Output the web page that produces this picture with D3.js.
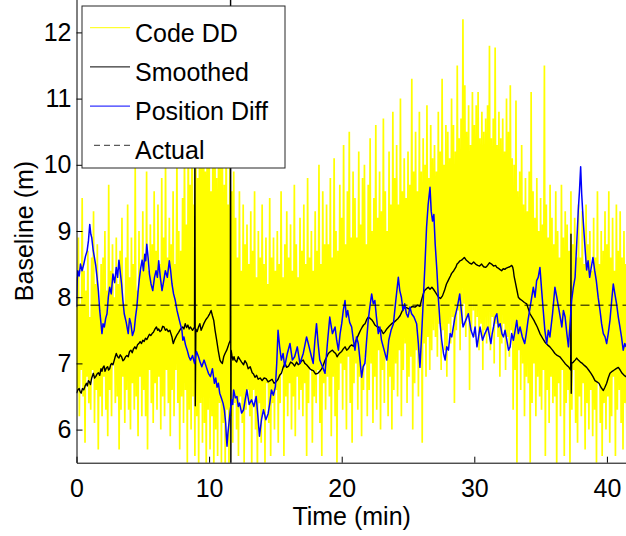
<!DOCTYPE html>
<html>
<head>
<meta charset="utf-8">
<script src="https://cdn.jsdelivr.net/npm/d3@7"></script>
<style>
  body { margin: 0; background: #fff; }
  svg { display: block; }
  text { font-family: "Liberation Sans", Arial, Helvetica, sans-serif; fill: #000; }
</style>
</head>
<body>
<svg id="chart" width="626" height="536"></svg>
<script>
// ---- data -------------------------------------------------------------
const xTicks = [0, 10, 20, 30, 40];
const yTicks = [6, 7, 8, 9, 10, 11, 12];
const xLabel = "Time (min)";
const yLabel = "Baseline (m)";
const legendLabels = ["Code DD", "Smoothed", "Position Diff", "Actual"];

// true baseline length (m)
const actualBaseline = 7.88;

// code double-difference baseline, sampled 14 times per minute (one row per minute)
const codeDDSamplesPerMin = 14;
const codeDD = [
  8.3, 6.6, 8.9, 6.2, 7.9, 6.9, 9.5, 6.5, 8.4, 5.8, 8.1, 6.8, 8.7, 6.4,
  7.7, 6.3, 8.6, 6.9, 9.3, 6.1, 8.2, 6.6, 8.8, 5.7, 7.9, 6.5, 8.5, 6.2,
  8.6, 6.8, 9.0, 6.3, 8.1, 5.9, 9.7, 6.6, 8.4, 6.2, 8.8, 7.0, 8.0, 6.4,
  8.9, 6.5, 8.2, 5.7, 8.7, 6.3, 9.2, 6.8, 7.9, 6.1, 8.6, 6.6, 9.4, 6.3,
  8.3, 6.0, 8.9, 6.7, 8.5, 6.3, 9.96, 6.5, 8.1, 5.9, 9.0, 6.8, 8.4, 6.2,
  9.3, 6.6, 8.6, 6.2, 9.9, 5.7, 8.4, 6.9, 9.1, 6.4, 8.8, 6.1, 9.6, 6.7,
  8.7, 6.3, 9.4, 6.8, 8.5, 6.0, 9.8, 6.5, 8.9, 6.2, 10.1, 6.9, 8.6, 6.4,
  9.2, 5.9, 8.8, 6.6, 9.6, 6.2, 8.5, 6.9, 10.2, 6.4, 9.0, 5.7, 8.7, 6.5,
  9.5, 6.1, 10.4, 6.6, 9.1, 5.5, 10.9, 6.3, 9.7, 6.0, 11.4, 6.5, 9.4, 5.6,
  10.6, 6.2, 9.8, 5.4, 11.2, 6.4, 10.1, 5.8, 12.0, 6.1, 9.9, 5.3, 10.8, 6.3,
  11.0, 5.7, 9.6, 6.2, 10.5, 5.3, 11.6, 6.0, 9.8, 5.6, 10.3, 6.4, 11.3, 5.5,
  10.2, 6.1, 9.7, 5.4, 10.8, 6.3, 9.4, 5.3, 10.5, 6.2, 9.6, 5.8, 9.9, 6.4,
  9.2, 6.0, 8.6, 5.6, 9.6, 6.5, 8.4, 6.1, 9.4, 5.5, 8.8, 6.3, 9.1, 6.6,
  8.5, 6.2, 9.3, 5.4, 8.7, 6.6, 9.6, 6.0, 8.3, 5.3, 9.0, 6.4, 8.6, 5.8,
  9.4, 6.3, 8.5, 5.5, 8.9, 6.7, 8.2, 6.1, 9.5, 5.6, 8.6, 6.4, 8.9, 6.0,
  8.4, 6.6, 9.0, 5.8, 8.5, 6.4, 9.6, 6.9, 8.3, 5.6, 8.8, 6.5, 9.3, 6.2,
  8.6, 6.7, 9.1, 6.0, 8.4, 6.5, 9.7, 5.9, 8.8, 6.8, 8.3, 6.3, 9.2, 6.6,
  8.7, 6.2, 9.4, 6.7, 8.5, 5.6, 9.8, 6.4, 8.6, 6.9, 9.0, 5.8, 8.4, 6.5,
  9.3, 6.4, 8.7, 6.9, 10.0, 6.1, 8.5, 5.6, 9.6, 6.7, 8.8, 6.3, 9.4, 6.8,
  8.8, 6.5, 9.8, 5.9, 8.6, 6.8, 10.1, 6.2, 9.0, 5.5, 8.7, 6.6, 9.7, 7.0,
  9.2, 6.3, 10.3, 6.9, 8.8, 6.0, 9.6, 7.1, 10.5, 6.4, 8.9, 5.8, 9.9, 6.7,
  9.5, 7.0, 8.9, 6.3, 10.2, 6.8, 9.1, 5.9, 9.8, 6.6, 10.0, 7.1, 8.8, 6.2,
  9.7, 6.6, 10.4, 7.0, 9.0, 6.1, 9.5, 6.8, 10.6, 6.3, 9.2, 7.2, 9.9, 6.0,
  9.3, 6.9, 10.7, 6.4, 9.6, 7.1, 9.0, 6.2, 10.2, 6.8, 9.4, 6.0, 10.8, 6.6,
  9.8, 7.0, 10.3, 6.5, 9.4, 7.2, 11.0, 6.2, 9.6, 6.9, 10.1, 7.3, 9.5, 6.4,
  10.2, 6.8, 9.7, 7.1, 11.3, 6.0, 9.9, 6.7, 10.5, 7.2, 9.6, 6.5, 10.8, 7.0,
  9.9, 5.8, 10.4, 7.3, 10.0, 6.8, 10.9, 7.4, 9.8, 6.9, 10.6, 7.2, 10.1, 7.5,
  10.3, 7.4, 9.9, 7.1, 10.8, 7.6, 10.2, 6.9, 11.3, 7.5, 10.0, 7.2, 10.6, 6.8,
  10.5, 7.6, 10.1, 7.3, 11.0, 7.7, 10.6, 6.4, 10.2, 7.5, 11.5, 7.8, 10.4, 7.2,
  10.7, 7.6, 12.2, 7.9, 11.2, 7.4, 10.5, 7.7, 10.9, 6.6, 10.3, 7.5, 11.1, 7.8,
  10.6, 7.4, 10.9, 7.7, 11.1, 7.2, 10.4, 7.6, 10.8, 6.9, 10.5, 7.5, 10.7, 7.3,
  10.9, 7.5, 11.8, 7.2, 10.4, 7.7, 10.7, 7.0, 11.77, 7.6, 10.3, 7.4, 10.8, 6.8,
  10.4, 7.3, 10.7, 7.6, 10.2, 6.9, 11.0, 7.4, 10.5, 7.1, 11.2, 7.5, 10.1, 6.3,
  10.0, 6.9, 10.97, 5.5, 9.6, 7.2, 9.9, 6.6, 10.3, 7.0, 9.4, 6.2, 9.8, 6.8,
  9.3, 6.7, 9.9, 5.5, 11.1, 6.4, 9.6, 7.0, 9.2, 6.2, 9.8, 6.8, 9.0, 6.5,
  9.5, 6.3, 9.1, 6.9, 11.5, 5.6, 9.4, 6.6, 8.9, 6.1, 9.7, 6.8, 9.2, 6.4,
  8.8, 6.5, 9.6, 5.4, 9.0, 6.7, 8.6, 6.2, 9.7, 6.9, 8.9, 5.6, 9.3, 6.4,
  9.1, 6.6, 8.7, 5.5, 9.6, 6.3, 8.8, 6.9, 9.2, 6.1, 8.6, 5.8, 9.4, 6.5,
  8.6, 6.2, 9.3, 6.7, 8.5, 5.7, 9.4, 6.4, 8.8, 6.0, 9.0, 6.6, 8.4, 5.9,
  9.2, 6.3, 8.6, 5.5, 9.6, 6.7, 8.5, 6.1, 9.0, 5.6, 8.7, 6.4, 9.3, 6.0,
  8.8, 6.5, 9.6, 5.8, 8.6, 6.2, 9.2, 6.8, 8.4, 5.6, 9.4, 6.3, 8.7, 6.6,
  9.3, 6.1, 8.6, 5.7, 9.0, 6.4, 8.5, 6.0, 8.9, 6.3, 8.4, 5.9, 8.8, 6.5
];

// smoothed baseline: [minute, metres]
const smoothed = [
  [0.00,6.55],[0.10,6.60],[0.20,6.62],[0.28,6.57],[0.35,6.55],[0.45,6.62],[0.55,6.60],[0.65,6.66],[0.75,6.70],[0.82,6.66],
  [0.90,6.74],[0.98,6.72],[1.05,6.68],[1.15,6.78],[1.27,6.85],[1.36,6.78],[1.45,6.80],[1.55,6.84],[1.65,6.86],[1.75,6.82],
  [1.85,6.92],[1.92,6.88],[2.00,6.94],[2.08,6.96],[2.15,6.88],[2.25,6.93],[2.35,6.95],[2.42,6.90],[2.50,6.92],[2.58,6.98],
  [2.65,7.00],[2.75,6.98],[2.85,7.05],[2.92,7.10],[3.00,7.15],[3.10,7.10],[3.20,7.08],[3.30,7.13],[3.40,7.10],[3.50,7.04],
  [3.60,7.06],[3.70,7.10],[3.80,7.12],[3.90,7.10],[4.00,7.18],[4.10,7.20],[4.20,7.16],[4.30,7.22],[4.40,7.25],[4.50,7.22],
  [4.60,7.28],[4.70,7.30],[4.80,7.33],[4.90,7.30],[5.00,7.35],[5.10,7.33],[5.20,7.38],[5.30,7.36],[5.40,7.40],[5.50,7.44],
  [5.60,7.42],[5.70,7.45],[5.80,7.47],[5.92,7.52],[6.03,7.55],[6.12,7.50],[6.20,7.52],[6.30,7.48],[6.40,7.50],[6.50,7.56],
  [6.60,7.55],[6.70,7.50],[6.80,7.52],[6.92,7.48],[7.04,7.50],[7.12,7.45],[7.20,7.40],[7.25,7.34],[7.30,7.30],[7.40,7.36],
  [7.50,7.40],[7.60,7.44],[7.70,7.47],[7.85,7.52],[8.00,7.55],[8.10,7.52],[8.20,7.60],[8.30,7.54],[8.40,7.58],[8.50,7.52],
  [8.60,7.55],[8.75,7.50],[8.90,7.55],[8.93,10.6],[8.96,6.36],[9.00,7.52],[9.10,7.48],[9.20,7.55],[9.30,7.60],[9.40,7.50],
  [9.50,7.55],[9.60,7.60],[9.75,7.66],[9.90,7.70],[10.02,7.74],[10.15,7.80],[10.25,7.72],[10.35,7.65],[10.45,7.50],[10.57,7.35],
  [10.70,7.18],[10.82,7.05],[10.90,7.02],[11.00,7.00],[11.10,7.10],[11.20,7.15],[11.33,7.20],[11.42,7.25],[11.50,7.30],[11.60,7.35],
  [11.62,13.0],[11.64,5.0],[11.66,7.20],[11.72,7.12],[11.80,7.05],[11.88,7.10],[11.95,7.05],[12.08,7.02],[12.20,7.10],[12.32,7.06],
  [12.45,7.02],[12.60,6.98],[12.70,7.04],[12.83,7.00],[12.95,6.92],[13.10,6.95],[13.25,6.86],[13.35,6.84],[13.46,6.79],[13.58,6.82],
  [13.70,6.76],[13.85,6.78],[14.00,6.74],[14.15,6.78],[14.30,6.77],[14.45,6.72],[14.60,6.74],[14.75,6.76],[14.90,6.70],[15.05,6.72],
  [15.20,6.76],[15.32,6.82],[15.45,6.85],[15.60,6.95],[15.72,7.00],[15.85,6.94],[16.00,6.96],[16.15,7.02],[16.30,7.00],[16.45,6.96],
  [16.60,7.02],[16.72,6.98],[16.85,7.00],[16.98,7.04],[17.10,7.05],[17.22,7.00],[17.35,6.98],[17.48,6.95],[17.60,6.92],[17.72,6.90],
  [17.86,6.89],[18.02,6.84],[18.20,6.85],[18.35,6.88],[18.50,6.92],[18.62,6.98],[18.75,7.05],[18.88,7.10],[18.99,7.15],[19.15,7.18],
  [19.30,7.20],[19.42,7.17],[19.55,7.15],[19.65,7.10],[19.74,7.13],[19.88,7.16],[20.00,7.18],[20.12,7.22],[20.25,7.25],[20.38,7.20],
  [20.50,7.22],[20.62,7.26],[20.75,7.28],[20.88,7.26],[21.00,7.30],[21.15,7.38],[21.30,7.45],[21.42,7.50],[21.55,7.55],[21.65,7.58],
  [21.76,7.60],[21.88,7.66],[22.00,7.70],[22.15,7.68],[22.30,7.65],[22.40,7.62],[22.50,7.58],[22.62,7.56],[22.76,7.55],[22.88,7.52],
  [23.00,7.50],[23.07,7.47],[23.14,7.45],[23.27,7.48],[23.40,7.52],[23.58,7.56],[23.77,7.60],[23.92,7.62],[24.10,7.65],[24.25,7.68],
  [24.40,7.72],[24.58,7.80],[24.77,7.85],[24.92,7.84],[25.10,7.82],[25.30,7.86],[25.53,7.85],[25.72,7.88],[25.90,7.86],[26.02,7.96],
  [26.15,8.05],[26.25,8.10],[26.35,8.12],[26.45,8.14],[26.53,8.15],[26.66,8.12],[26.80,8.15],[26.92,8.12],[27.05,8.08],[27.18,8.04],
  [27.30,8.00],[27.45,7.98],[27.60,8.02],[27.75,8.10],[27.90,8.20],[28.00,8.24],[28.10,8.28],[28.20,8.32],[28.29,8.36],[28.45,8.40],
  [28.60,8.45],[28.70,8.50],[28.80,8.52],[28.92,8.55],[29.04,8.56],[29.15,8.58],[29.25,8.60],[29.35,8.57],[29.45,8.55],[29.62,8.52],
  [29.80,8.50],[29.95,8.53],[30.10,8.50],[30.25,8.48],[30.40,8.47],[30.55,8.50],[30.70,8.46],[30.85,8.45],[31.00,8.48],[31.15,8.52],
  [31.30,8.50],[31.45,8.47],[31.60,8.48],[31.70,8.45],[31.80,8.44],[31.92,8.42],[32.06,8.40],[32.18,8.43],[32.30,8.42],[32.42,8.44],
  [32.55,8.45],[32.68,8.46],[32.82,8.48],[32.90,8.45],[32.95,8.40],[33.00,8.32],[33.07,8.25],[33.20,8.12],[33.32,8.00],[33.45,7.97],
  [33.60,7.95],[33.78,7.92],[33.95,7.90],[34.08,7.82],[34.20,7.75],[34.35,7.70],[34.50,7.65],[34.62,7.60],[34.75,7.55],[34.85,7.50],
  [34.95,7.45],[35.15,7.38],[35.33,7.32],[35.52,7.28],[35.70,7.25],[35.90,7.20],[36.08,7.15],[36.25,7.12],[36.45,7.10],[36.65,7.05],
  [36.84,7.00],[36.98,6.97],[37.10,6.95],[37.20,6.92],[37.27,6.90],[37.29,8.95],[37.31,6.55],[37.34,7.00],[37.47,7.02],[37.60,7.05],
  [37.72,7.08],[37.84,7.05],[38.00,7.02],[38.15,7.00],[38.30,6.97],[38.47,6.94],[38.62,6.90],[38.80,6.85],[38.95,6.80],[39.10,6.74],
  [39.25,6.72],[39.40,6.70],[39.55,6.64],[39.73,6.59],[39.85,6.64],[39.98,6.70],[40.10,6.78],[40.23,6.85],[40.40,6.88],[40.55,6.90],
  [40.70,6.92],[40.86,6.94],[41.00,6.90],[41.15,6.85],[41.30,6.82],[41.50,6.79]
];

// position-difference baseline: [minute, metres]
const positionDiff = [
  [0.00,7.85],[0.05,8.25],[0.10,8.40],[0.20,8.32],[0.30,8.50],[0.42,8.40],[0.55,8.50],[0.68,8.62],[0.80,8.70],[0.90,8.85],
  [1.00,9.10],[1.08,8.95],[1.15,8.90],[1.25,8.72],[1.35,8.60],[1.45,8.48],[1.55,8.30],[1.65,8.10],[1.75,7.80],[1.84,7.62],
  [1.92,7.45],[2.00,7.60],[2.10,7.55],[2.20,7.68],[2.30,7.75],[2.40,8.00],[2.50,8.15],[2.62,8.05],[2.75,8.35],[2.88,8.22],
  [3.00,8.45],[3.10,8.30],[3.20,8.56],[3.30,8.38],[3.40,8.20],[3.50,7.95],[3.60,7.75],[3.75,7.62],[3.90,7.45],[4.00,7.68],
  [4.10,7.60],[4.22,7.42],[4.35,7.50],[4.45,7.70],[4.55,7.85],[4.65,8.10],[4.75,8.30],[4.85,8.45],[4.95,8.56],[5.05,8.40],
  [5.15,8.65],[5.22,8.55],[5.30,8.80],[5.40,8.60],[5.50,8.35],[5.62,8.20],[5.75,8.10],[5.88,8.30],[6.00,8.40],[6.10,8.30],
  [6.20,8.55],[6.32,8.30],[6.45,8.10],[6.58,8.25],[6.70,8.40],[6.85,8.30],[7.00,8.55],[7.10,8.40],[7.20,8.20],[7.32,8.05],
  [7.45,7.95],[7.58,7.80],[7.70,7.70],[7.82,7.60],[7.95,7.50],[8.02,7.35],[8.10,7.40],[8.22,7.28],[8.35,7.20],[8.48,7.10],
  [8.60,7.05],[8.75,7.12],[8.90,7.00],[9.05,7.18],[9.20,7.10],[9.32,7.02],[9.45,6.95],[9.62,7.05],[9.80,6.94],[9.95,6.85],
  [10.10,6.80],[10.25,6.92],[10.40,6.70],[10.50,6.78],[10.60,6.64],[10.70,6.70],[10.80,6.55],[10.92,6.48],[11.05,6.40],[11.15,6.30],
  [11.25,6.10],[11.30,5.90],[11.35,5.75],[11.42,5.95],[11.50,6.10],[11.60,6.30],[11.70,6.45],[11.78,6.38],[11.85,6.60],[11.98,6.48],
  [12.10,6.50],[12.20,6.35],[12.30,6.40],[12.45,6.25],[12.60,6.30],[12.72,6.45],[12.85,6.60],[13.02,6.38],[13.20,6.45],[13.38,6.35],
  [13.55,6.50],[13.68,6.20],[13.80,5.90],[13.95,6.15],[14.10,6.30],[14.28,6.15],[14.45,6.24],[14.58,6.40],[14.70,6.60],[14.85,6.52],
  [15.00,6.65],[15.10,7.00],[15.20,7.50],[15.32,7.25],[15.45,7.05],[15.58,7.15],[15.70,6.95],[15.90,7.15],[16.10,7.30],[16.28,7.05],
  [16.45,7.10],[16.65,7.25],[16.85,7.00],[17.10,7.15],[17.35,7.40],[17.48,7.30],[17.60,7.20],[17.72,7.10],[17.85,7.00],[17.98,7.35],
  [18.10,7.60],[18.22,7.30],[18.35,7.05],[18.55,6.95],[18.74,6.85],[18.92,7.30],[19.10,7.70],[19.30,7.45],[19.50,7.55],[19.62,7.35],
  [19.75,7.20],[19.88,7.45],[20.00,7.60],[20.12,7.80],[20.25,7.95],[20.35,7.70],[20.45,7.80],[20.60,7.62],[20.75,7.55],[20.88,7.35],
  [21.00,7.20],[21.12,7.40],[21.25,7.30],[21.38,7.05],[21.50,6.79],[21.62,6.95],[21.75,7.00],[21.88,7.35],[22.00,7.65],[22.12,7.85],
  [22.26,8.05],[22.38,7.90],[22.50,7.95],[22.62,7.70],[22.76,7.45],[22.88,7.55],[23.00,7.35],[23.20,7.20],[23.40,7.05],[23.48,7.20],
  [23.55,7.35],[23.72,7.50],[23.90,7.60],[24.08,7.95],[24.27,8.30],[24.38,8.10],[24.50,8.00],[24.62,7.80],[24.75,7.90],[24.88,7.75],
  [25.00,7.70],[25.15,7.85],[25.27,7.75],[25.45,7.70],[25.65,7.60],[25.78,7.30],[25.90,6.94],[26.02,7.40],[26.15,7.95],[26.28,8.50],
  [26.40,9.06],[26.52,9.40],[26.66,9.66],[26.75,9.30],[26.85,9.15],[26.95,9.25],[27.05,8.80],[27.18,8.40],[27.30,7.95],[27.42,7.60],
  [27.54,7.35],[27.68,7.15],[27.80,7.05],[27.92,7.25],[28.05,7.20],[28.18,7.45],[28.30,7.40],[28.42,7.55],[28.54,7.70],[28.72,7.85],
  [28.90,8.05],[29.02,7.80],[29.15,7.55],[29.35,7.65],[29.55,7.75],[29.75,7.50],[29.93,7.40],[30.06,7.55],[30.20,7.25],[30.32,7.40],
  [30.43,7.55],[30.62,7.35],[30.80,7.45],[31.02,7.55],[31.25,7.30],[31.35,7.45],[31.45,7.55],[31.58,7.70],[31.70,7.75],[31.82,7.55],
  [31.95,7.60],[32.08,7.45],[32.20,7.40],[32.32,7.50],[32.45,7.35],[32.58,7.20],[32.70,7.25],[32.82,7.45],[32.95,7.35],[33.08,7.50],
  [33.20,7.65],[33.32,7.45],[33.45,7.55],[33.62,7.40],[33.80,7.30],[33.92,7.45],[34.05,7.65],[34.25,7.90],[34.45,8.15],[34.58,8.00],
  [34.70,8.25],[34.82,8.30],[34.95,8.45],[35.08,8.10],[35.20,7.80],[35.32,7.50],[35.46,7.30],[35.58,7.50],[35.70,7.40],[35.90,7.75],
  [36.08,8.15],[36.22,8.00],[36.35,7.85],[36.48,7.70],[36.60,7.55],[36.72,7.80],[36.85,7.70],[36.98,7.45],[37.10,7.25],[37.22,7.60],
  [37.34,7.95],[37.47,8.15],[37.60,8.30],[37.72,8.80],[37.84,9.31],[37.93,9.60],[38.02,9.97],[38.10,9.55],[38.20,9.20],[38.33,8.80],
  [38.47,8.41],[38.58,8.55],[38.70,8.30],[38.82,8.45],[38.95,8.60],[39.08,8.40],[39.20,8.25],[39.34,8.00],[39.48,7.80],[39.60,7.60],
  [39.73,7.45],[39.86,7.40],[39.98,7.30],[40.10,7.45],[40.23,7.65],[40.36,7.95],[40.48,8.20],[40.60,8.05],[40.73,7.90],[40.86,7.70],
  [40.98,7.55],[41.10,7.40],[41.23,7.20],[41.35,7.30],[41.45,7.25]
];

// ---- layout -----------------------------------------------------------
const svg = d3.select("#chart");
const plot = { left: 76.5, right: 626.8, top: -0.7, bottom: 462.7 };

const x = d3.scaleLinear().domain([0, 41.5]).range([plot.left, plot.right]);
const y = d3.scaleLinear().domain([5.5, 12.5]).range([plot.bottom, plot.top]);

svg.append("defs").append("clipPath").attr("id", "plot-clip")
  .append("rect")
  .attr("x", plot.left).attr("y", plot.top)
  .attr("width", plot.right - plot.left).attr("height", plot.bottom - plot.top);

const series = svg.append("g").attr("clip-path", "url(#plot-clip)");

const line = d3.line().x(d => x(d[0])).y(d => y(d[1]));

const codeDDPoints = codeDD.map((v, i) => [i / codeDDSamplesPerMin, v]);

series.append("path")
  .attr("d", line(codeDDPoints))
  .attr("fill", "none").attr("stroke", "#ffff00").attr("stroke-width", 1.7)
  .attr("stroke-linejoin", "bevel");

series.append("path")
  .attr("d", line(smoothed))
  .attr("fill", "none").attr("stroke", "#000").attr("stroke-width", 1.4)
  .attr("stroke-linejoin", "round");

series.append("path")
  .attr("d", line(positionDiff))
  .attr("fill", "none").attr("stroke", "#0000ff").attr("stroke-width", 1.5)
  .attr("stroke-linejoin", "round");

series.append("line")
  .attr("x1", x(0)).attr("x2", x(41.5))
  .attr("y1", y(actualBaseline)).attr("y2", y(actualBaseline))
  .attr("stroke", "#000").attr("stroke-opacity", 0.65)
  .attr("stroke-width", 1.5).attr("stroke-dasharray", "9,5");

// ---- axes -------------------------------------------------------------
const xAxis = d3.axisBottom(x).tickValues(xTicks).tickFormat(d3.format("d"))
  .tickSizeInner(-6).tickSizeOuter(0).tickPadding(17);
const yAxis = d3.axisLeft(y).tickValues(yTicks).tickFormat(d3.format("d"))
  .tickSizeInner(-6).tickSizeOuter(0).tickPadding(5);

const gx = svg.append("g").attr("transform", `translate(0,${plot.bottom})`).call(xAxis);
const gy = svg.append("g").attr("transform", `translate(${plot.left},0)`).call(yAxis);

[gx, gy].forEach(g => {
  g.selectAll("text").style("font-size", "25px").attr("fill", "#000");
  g.selectAll("line").attr("stroke", "#000");
  g.select(".domain").attr("stroke", "#000").attr("stroke-width", 1);
});

svg.append("text")
  .attr("x", (plot.left + plot.right) / 2).attr("y", 525)
  .attr("text-anchor", "middle").style("font-size", "25px")
  .text(xLabel);

svg.append("text")
  .attr("transform", `translate(33,${(plot.top + plot.bottom) / 2}) rotate(-90)`)
  .attr("text-anchor", "middle").style("font-size", "25px")
  .text(yLabel);

// ---- legend -----------------------------------------------------------
const legend = svg.append("g");
legend.append("rect")
  .attr("x", 82).attr("y", 6).attr("width", 203).attr("height", 162)
  .attr("fill", "#fff").attr("stroke", "#262626").attr("stroke-width", 1);

const legendStyles = [
  { stroke: "#ffff00", dash: null },
  { stroke: "#000", dash: null },
  { stroke: "#0000ff", dash: null },
  { stroke: "#333", dash: "6,4" }
];

legendLabels.forEach((label, i) => {
  const baseY = 41.7 + i * 39.2;
  const st = legendStyles[i];
  legend.append("line")
    .attr("x1", st.dash ? 94 : 90).attr("x2", 130)
    .attr("y1", baseY - 14).attr("y2", baseY - 14)
    .attr("stroke", st.stroke).attr("stroke-width", 1)
    .attr("stroke-dasharray", st.dash);
  legend.append("text")
    .attr("x", 135).attr("y", baseY)
    .style("font-size", "25px")
    .text(label);
});
</script>
</body>
</html>
